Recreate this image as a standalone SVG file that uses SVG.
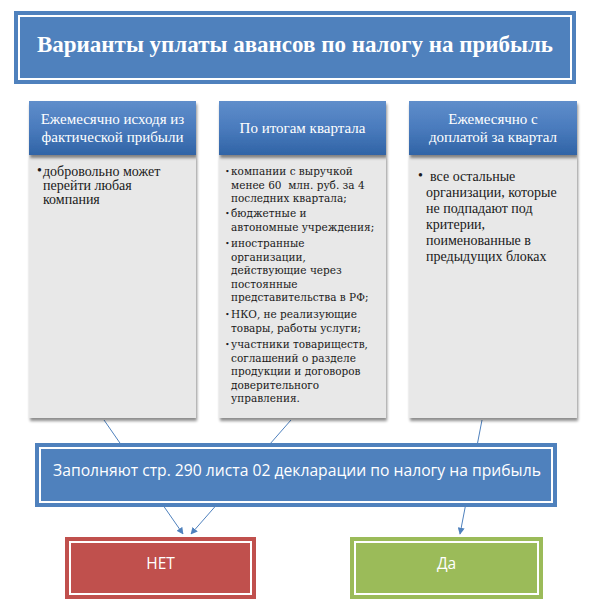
<svg xmlns="http://www.w3.org/2000/svg" width="606" height="612" viewBox="0 0 606 612">
<defs>
<linearGradient id="hdr" x1="0" y1="0" x2="0" y2="1">
<stop offset="0" stop-color="#5F8ECB"/>
<stop offset="0.5" stop-color="#4A7BBD"/>
<stop offset="1" stop-color="#3064A6"/>
</linearGradient>
<filter id="sh" x="-5%" y="-5%" width="115%" height="115%">
<feGaussianBlur in="SourceAlpha" stdDeviation="1.5"/>
<feOffset dx="1" dy="2.5" result="b"/>
<feComponentTransfer><feFuncA type="linear" slope="0.45"/></feComponentTransfer>
<feMerge><feMergeNode/><feMergeNode in="SourceGraphic"/></feMerge>
</filter>
<marker id="arr" viewBox="0 0 10 10" refX="9" refY="5" markerWidth="7" markerHeight="7" orient="auto" markerUnits="userSpaceOnUse">
<path d="M0,0 L10,5 L0,10 z" fill="#4F81BD"/>
</marker>
<style>
.outer{stroke:none}
.inner{fill:none;stroke:#FFFFFF;stroke-width:2}
.ttl{font-family:"Liberation Serif",serif;font-weight:bold;font-size:23px;fill:#FFFFFF;text-anchor:middle}
.hdrt{font-family:"Liberation Serif",serif;font-size:15px;fill:#FFFFFF;text-anchor:middle}
.b1{font-family:"Liberation Serif",serif;font-size:14px;fill:#1A1A1A}
.b2{font-family:"DejaVu Serif",serif;font-size:10.5px;fill:#1A1A1A}
.sans{font-family:"Open Sans","Liberation Sans",sans-serif;fill:#FFFFFF;text-anchor:middle}
.conn{stroke:#4F81BD;stroke-width:1;fill:none}
</style>
</defs>
<rect width="606" height="612" fill="#FFFFFF"/>

<g id="connectors">
<line class="conn" x1="104" y1="420" x2="183" y2="534" marker-end="url(#arr)"/>
<line class="conn" x1="291" y1="420" x2="191" y2="534" marker-end="url(#arr)"/>
<line class="conn" x1="482" y1="420" x2="460" y2="534" marker-end="url(#arr)"/>
</g>

<g id="title">
<rect class="outer" x="14" y="11" width="562" height="73" fill="#4F81BD"/>
<rect class="inner" x="19" y="16" width="552" height="63"/>
<text class="ttl" x="295" y="52">Варианты уплаты авансов по налогу на прибыль</text>
</g>

<g id="col1">
<rect x="29" y="155" width="167" height="263" fill="#E8E8E8" filter="url(#sh)"/>
<rect x="29" y="101" width="167" height="54" fill="url(#hdr)" filter="url(#sh)"/>
<text class="hdrt" x="112.5" y="124">Ежемесячно исходя из</text>
<text class="hdrt" x="112.5" y="142">фактической прибыли</text>
<text class="b1" x="37" y="175" font-size="9">•</text>
<text class="b1" x="43" y="176">добровольно может</text>
<text class="b1" x="43" y="190">перейти любая</text>
<text class="b1" x="43" y="204">компания</text>
</g>

<g id="col2">
<rect x="219" y="155" width="167" height="263" fill="#E8E8E8" filter="url(#sh)"/>
<rect x="219" y="101" width="167" height="54" fill="url(#hdr)" filter="url(#sh)"/>
<text class="hdrt" x="302.5" y="133">По итогам квартала</text>
<g class="b2">
<text x="225" y="174" font-size="8">•</text>
<text x="231" y="175">компании с выручкой</text>
<text x="231" y="188.5">менее 60&#160; млн. руб. за 4</text>
<text x="231" y="202">последних квартала;</text>
<text x="225" y="216" font-size="8">•</text>
<text x="231" y="217">бюджетные и</text>
<text x="231" y="230.5">автономные учреждения;</text>
<text x="225" y="246" font-size="8">•</text>
<text x="231" y="247">иностранные</text>
<text x="231" y="260.5">организации,</text>
<text x="231" y="274">действующие через</text>
<text x="231" y="287.5">постоянные</text>
<text x="231" y="301">представительства в РФ;</text>
<text x="225" y="317" font-size="8">•</text>
<text x="231" y="318">НКО, не реализующие</text>
<text x="231" y="331.5">товары, работы услуги;</text>
<text x="225" y="347" font-size="8">•</text>
<text x="231" y="348">участники товариществ,</text>
<text x="231" y="361.5">соглашений о разделе</text>
<text x="231" y="375">продукции и договоров</text>
<text x="231" y="388.5">доверительного</text>
<text x="231" y="402">управления.</text>
</g>
</g>

<g id="col3">
<rect x="409" y="155" width="168" height="263" fill="#E8E8E8" filter="url(#sh)"/>
<rect x="409" y="101" width="168" height="54" fill="url(#hdr)" filter="url(#sh)"/>
<text class="hdrt" x="493" y="124">Ежемесячно с</text>
<text class="hdrt" x="493" y="142">доплатой за квартал</text>
<text class="b1" x="418" y="180" font-size="12">•</text>
<text class="b1" x="430" y="181">все остальные</text>
<text class="b1" x="426" y="197">организации, которые</text>
<text class="b1" x="426" y="213">не подпадают под</text>
<text class="b1" x="426" y="229">критерии,</text>
<text class="b1" x="426" y="245">поименованные в</text>
<text class="b1" x="426" y="261">предыдущих блоках</text>
</g>

<g id="middle">
<rect x="35" y="443" width="522" height="64" fill="#4F81BD"/>
<rect class="inner" x="40" y="448" width="512" height="54"/>
<text class="sans" x="297" y="476" font-size="15.7">Заполняют стр. 290 листа 02 декларации по налогу на прибыль</text>
</g>

<g id="net">
<rect x="65" y="537" width="191" height="62" fill="#C0504D"/>
<rect class="inner" x="70" y="542" width="181" height="52"/>
<text class="sans" x="160.5" y="569" font-size="15.5">НЕТ</text>
</g>

<g id="da">
<rect x="350" y="537" width="193" height="62" fill="#9BBB59"/>
<rect class="inner" x="355" y="542" width="183" height="52"/>
<text class="sans" x="446.5" y="569" font-size="15.5">Да</text>
</g>
</svg>
